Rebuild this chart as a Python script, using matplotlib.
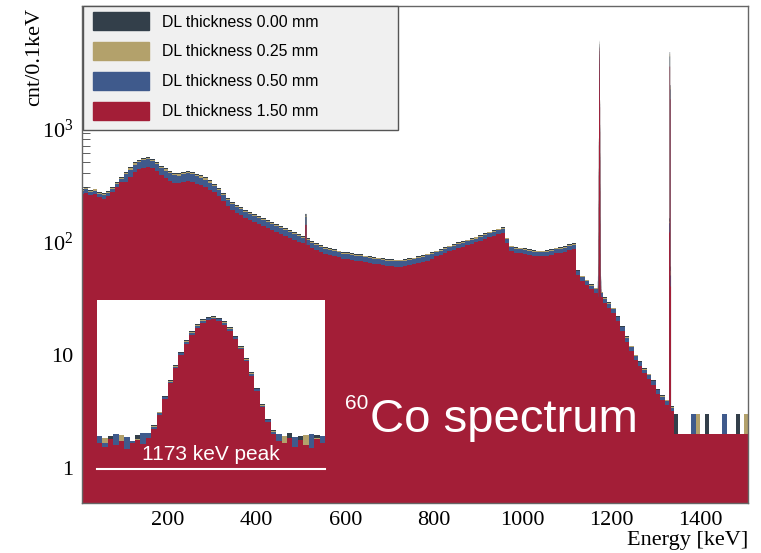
import matplotlib
matplotlib.use("Agg")
import matplotlib.pyplot as plt
from matplotlib.patches import Rectangle, Patch
from matplotlib.ticker import NullFormatter
import numpy as np

plt.rcParams['font.family'] = ['Liberation Serif', 'DejaVu Serif']
plt.rcParams['mathtext.fontset'] = 'custom'
plt.rcParams['mathtext.rm'] = 'Liberation Serif'
plt.rcParams['mathtext.default'] = 'regular'
plt.rcParams['path.simplify'] = False

# continuum, DL 0.00 mm, counts per 0.1 keV in 10 keV wide steps from 0 to 1340 keV
cont_dl000 = [
    290, 300, 285, 292, 272, 266, 280, 302, 335, 372,
    410, 452, 498, 528, 546, 556, 538, 506, 468, 442,
    421, 404, 399, 411, 421, 412, 396, 384, 368, 346,
    322, 294, 266, 241, 222, 211, 200, 191, 183, 176,
    168, 162, 154, 149, 142, 137, 131, 126, 121, 117,
    112, 107, 100, 96, 93, 89, 87, 85, 83, 81,
    80, 79, 77, 77, 75, 74, 73, 72, 71, 70,
    70, 69, 69, 70, 71, 72, 74, 76, 78, 80,
    83, 86, 89, 92, 95, 98, 101, 104, 107, 110,
    114, 118, 122, 126, 130, 134, 108, 92, 89, 88,
    87, 85, 84, 83, 83, 84, 86, 88, 89, 91,
    94, 96, 56, 50, 46, 42, 39, 36, 32, 29,
    26, 22, 18, 14.5, 12, 10, 8.8, 7.6, 6.8, 6.0,
    5.0, 4.4, 4.0, 3.5,
]
cont_start, cont_step = 0, 10

# thicker dead layers relative to DL 0.00 mm, per energy band
ratio_edges = [0, 100, 300, 500, 800, 1100, 1340]
ratio_000 = [1.0, 1.0, 1.0, 1.0, 1.0, 1.0]
ratio_025 = [0.985, 0.98, 0.98, 0.985, 0.985, 0.985]
ratio_050 = [0.96, 0.955, 0.96, 0.965, 0.965, 0.97]
ratio_150 = [0.90, 0.82, 0.85, 0.87, 0.89, 0.90]

# high energy tail above 1340 keV, 10 keV steps
tail_000 = [3, 2, 2, 2, 2, 2, 2, 3, 2, 2, 2, 2, 2, 2, 3, 2, 2]
tail_025 = [2, 2, 2, 2, 2, 3, 2, 2, 2, 2, 2, 2, 2, 2, 2, 2, 3]
tail_050 = [2, 2, 2, 2, 3, 2, 2, 2, 2, 2, 2, 3, 2, 2, 2, 2, 2]
tail_150 = [2, 2, 2, 2, 2, 2, 2, 2, 2, 2, 2, 2, 2, 2, 2, 2, 2]

# 511 keV annihilation line
p511_edges = [509.5, 512.5]
p511 = [175, 168, 165, 140]

# 1332 keV line
p1332_edges = [1330.0, 1331.4, 1332.3, 1333.1, 1334.4]
p1332_000 = [160, 4700, 2400, 60]
p1332_025 = [150, 4500, 2300, 55]
p1332_050 = [145, 4300, 2200, 50]
p1332_150 = [120, 3500, 1800, 40]

# 1173 keV line, 0.2 keV steps from 1169.0 keV (also used for the inset)
p1173_start, p1173_step = 1169.0, 0.2
p1173_000 = [38, 30, 45, 33, 41, 28, 36, 47, 40,
             48, 69, 120, 230, 440, 810, 1390, 2190, 3190, 4250, 5180, 5790,
             5920, 5540, 4740, 3720, 2670, 1760, 1070, 600, 320, 165, 90, 58,
             42, 36, 50, 31, 44, 38, 29, 46, 37]
p1173_025 = [35, 41, 29, 38, 46, 33, 30, 39, 44,
             44, 66, 116, 221, 422, 778, 1334, 2102, 3062, 4080, 4973, 5558,
             5683, 5318, 4550, 3571, 2563, 1690, 1027, 576, 307, 158, 86, 55,
             37, 45, 33, 40, 29, 47, 35, 41, 30]
p1173_050 = [44, 33, 38, 49, 30, 42, 37, 28, 51,
             50, 63, 112, 214, 409, 753, 1293, 2037, 2967, 3953, 4817, 5385,
             5506, 5152, 4408, 3460, 2483, 1637, 995, 558, 298, 153, 84, 52,
             48, 31, 39, 43, 34, 30, 49, 33, 45]
p1173_150 = [34, 29, 40, 31, 36, 26, 33, 38, 32,
             41, 60, 104, 200, 383, 705, 1209, 1905, 2775, 3698, 4507, 5037,
             5150, 4820, 4124, 3236, 2323, 1531, 931, 522, 278, 144, 78, 49,
             36, 33, 41, 28, 38, 31, 27, 40, 34]

labels = ['DL thickness 0.00 mm', 'DL thickness 0.25 mm',
          'DL thickness 0.50 mm', 'DL thickness 1.50 mm']
colors = ['#333f4a', '#b3a16b', '#3f5a8c', '#a31e37']

ratios = [ratio_000, ratio_025, ratio_050, ratio_150]
tails = [tail_000, tail_025, tail_050, tail_150]
p1332s = [p1332_000, p1332_025, p1332_050, p1332_150]
p1173s = [p1173_000, p1173_025, p1173_050, p1173_150]

W, H = 761, 553
fig = plt.figure(figsize=(W / 100, H / 100), dpi=100)
ax = fig.add_axes([82 / W, (H - 503) / H, 666 / W, 497 / H])

n_cont = len(cont_dl000)
edges = cont_start + cont_step * np.arange(n_cont + len(tail_000) + 1)
centres = 0.5 * (edges[:n_cont] + edges[1:n_cont + 1])
band = np.searchsorted(ratio_edges, centres, side='right') - 1
p1173_edges = np.round(p1173_start + p1173_step * np.arange(len(p1173_000) + 1), 2)

for i in range(4):
    c = colors[i]
    cont = np.array(cont_dl000) * np.array(ratios[i])[band]
    vals = np.concatenate([cont, tails[i]])
    ax.stairs(vals, edges, fill=True, baseline=0.1, color=c, lw=0.8)
    ax.stairs([p511[i]], p511_edges, fill=True, baseline=0.1, color=c, lw=0.8, snap=False)
    ax.stairs(p1173s[i], p1173_edges, fill=True, baseline=0.1, color=c, lw=1.0, snap=False)
    ax.stairs(p1332s[i], p1332_edges, fill=True, baseline=0.1, color=c, lw=1.0, snap=False)

ax.set_yscale('log')
ax.set_xlim(6, 1508)
ax.set_ylim(0.49, 12000)
ax.set_xticks([200, 400, 600, 800, 1000, 1200, 1400])
ax.set_yticks([1, 10, 100, 1000], ['1', '10', '$10^{2}$', '$10^{3}$'])
ax.yaxis.set_minor_formatter(NullFormatter())
ax.set_axisbelow(True)
ax.tick_params(which='both', direction='in', colors='#444', labelcolor='black', labelsize=16)
ax.tick_params(axis='x', pad=6)
ax.tick_params(axis='y', pad=6)
ax.tick_params(which='major', length=8.5)
ax.tick_params(which='minor', length=6)
for s in ax.spines.values():
    s.set_color('#666')
    s.set_linewidth(1)

fig.text(748 / W, 1 - 541 / H, 'Energy [keV]', ha='right', va='center', fontsize=16)
fig.text(35 / W, 1 - 8 / H, 'cnt/0.1keV', ha='center', va='top', rotation=90, fontsize=16)

# inset with the 1173 keV peak
axi = fig.add_axes([97 / W, (H - 469) / H, 228 / W, 169 / H])
axi.set_facecolor('white')
for i in range(4):
    axi.stairs(p1173s[i], p1173_edges, fill=True, baseline=1, color=colors[i], lw=0.6)
axi.set_yscale('log')
axi.set_xlim(1169.0, 1177.4)
axi.set_ylim(11.6, 11350)
axi.set_xticks([])
axi.set_yticks([])
axi.yaxis.set_minor_locator(plt.NullLocator())
for k in ['top', 'left', 'right']:
    axi.spines[k].set_visible(False)
axi.spines['bottom'].set_color('white')
axi.spines['bottom'].set_linewidth(1.5)

fig.text(211 / W, 1 - 455 / H, '1173 keV peak', ha='center', va='center',
         color='white', fontsize=15, family='Liberation Sans')
fig.text(370 / W, 1 - 432 / H, 'Co spectrum', ha='left', va='baseline',
         color='white', fontsize=34, family='Liberation Sans')
fig.text(368 / W, 1 - 409 / H, '60', ha='right', va='baseline',
         color='white', fontsize=15, family='Liberation Sans')

# legend box
box = Rectangle((83 / W, 1 - 130 / H), 315 / W, 124 / H, transform=fig.transFigure,
                facecolor='#f0f0f0', edgecolor='#555', lw=1, zorder=3)
fig.add_artist(box)
handles = [Patch(facecolor=c, edgecolor=c) for c in colors]
fig.legend(handles, labels, loc='upper left', bbox_to_anchor=(93 / W, 1 - 12 / H),
           bbox_transform=fig.transFigure, frameon=False, borderpad=0, borderaxespad=0,
           handlelength=3.55, handleheight=1.42, labelspacing=0.72, handletextpad=0.8,
           prop={'family': 'Liberation Sans', 'size': 11.4})

fig.savefig('out.png', dpi=100)
